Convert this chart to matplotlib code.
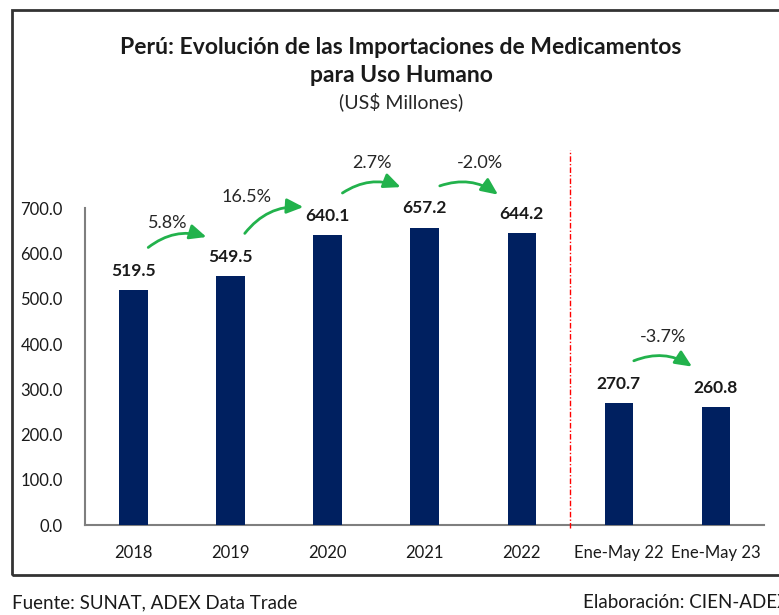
import matplotlib
matplotlib.use("Agg")
import matplotlib.pyplot as plt
from matplotlib.patches import Rectangle

plt.rcParams['font.family'] = ['Lato', 'DejaVu Sans']

categorias = ["2018", "2019", "2020", "2021", "2022", "Ene-May 22", "Ene-May 23"]
valores = [519.5, 549.5, 640.1, 657.2, 644.2, 270.7, 260.8]

# variaciones: (desde, hasta, etiqueta)
variaciones = [(0, 1, "5.8%"), (1, 2, "16.5%"), (2, 3, "2.7%"), (3, 4, "-2.0%"), (5, 6, "-3.7%")]

azul = "#002060"
verde = "#22b24c"
gris = "#7f7f7f"

fig = plt.figure(figsize=(7.79, 6.15), dpi=100)
ax = fig.add_axes([0.109, 0.146, 0.872, 0.648])

x = list(range(len(categorias)))
barras = ax.bar(x, valores, width=0.29, color=azul, zorder=3)

for b, v in zip(barras, valores):
    ax.annotate(f"{v:.1f}", (b.get_x() + b.get_width() / 2, v), xytext=(0, 8),
                textcoords="offset points", ha="center", va="bottom",
                fontsize=12.5, fontweight="bold", color="#1a1a1a")

# flechas de variacion
fin_extra = [85, 62, 87, 82, 86]
txt_dx = [0.35, 0.17, 0.46, 0.57, 0.46]
txt_dy = [148, 176, 159, 142, 146]
for k, (i, j, et) in enumerate(variaciones):
    y0 = valores[i] + 90
    y1 = valores[j] + fin_extra[k]
    ax.annotate("", xy=(j - 0.22, y1), xytext=(i + 0.13, y0),
                arrowprops=dict(arrowstyle="-|>,head_length=1.0,head_width=0.45",
                                connectionstyle="arc3,rad=-0.28",
                                color=verde, lw=2))
    ax.text(i + txt_dx[k], valores[i] + txt_dy[k], et, ha="center", va="center",
            fontsize=13, color="#262626")

# separador
ax.plot([4.5, 4.5], [-7, 828], color="red", lw=1, linestyle=(0, (4, 1.5, 1, 1.5)),
        clip_on=False, zorder=4)

ax.set_xlim(-0.5, 6.5)
ax.set_ylim(0, 880)
ax.set_yticks([0, 100, 200, 300, 400, 500, 600, 700])
ax.set_yticklabels([f"{t:.1f}" for t in ax.get_yticks()])
ax.set_xticks(x)
ax.set_xticklabels(categorias)
ax.tick_params(axis="both", length=0, labelsize=12, colors="#1a1a1a")
ax.tick_params(axis="x", pad=14)
ax.tick_params(axis="y", pad=16)

for s in ["top", "right"]:
    ax.spines[s].set_visible(False)
ax.spines["left"].set_bounds(0, 700)
ax.spines["left"].set_color(gris)
ax.spines["bottom"].set_color(gris)
ax.spines["left"].set_linewidth(1.5)
ax.spines["bottom"].set_linewidth(1.5)

# titulo
fig.text(0.515, 0.923, "Perú: Evolución de las Importaciones de Medicamentos",
         ha="center", va="center", fontsize=16.5, fontweight="bold", color="#1a1a1a")
fig.text(0.515, 0.878, "para Uso Humano", ha="center", va="center",
         fontsize=16.5, fontweight="bold", color="#1a1a1a")
fig.text(0.515, 0.834, "(US$ Millones)", ha="center", va="center",
         fontsize=14, color="#262626")

# marco
fig.patches.append(Rectangle((0.0154, 0.065), 1.0, 0.919, transform=fig.transFigure,
                             fill=False, edgecolor="#333333", lw=2, clip_on=False))

fig.text(0.0154, 0.02, "Fuente: SUNAT, ADEX Data Trade", ha="left", va="center",
         fontsize=13.5, color="#1a1a1a")
fig.text(0.748, 0.02, "Elaboración: CIEN-ADEX", ha="left", va="center",
         fontsize=13.5, color="#1a1a1a")

fig.savefig("out.png", dpi=100)
